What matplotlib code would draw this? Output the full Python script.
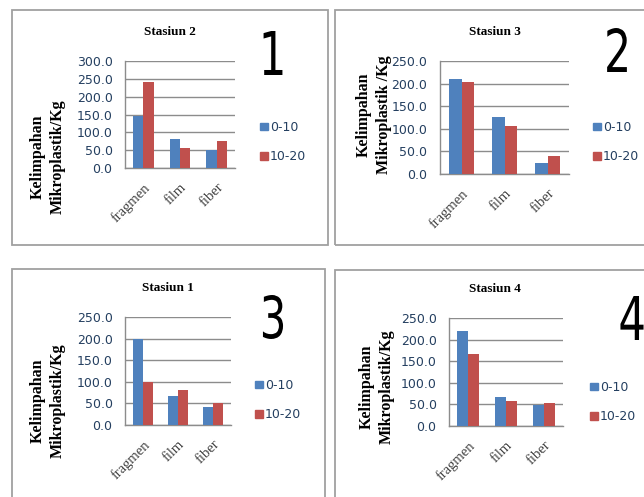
import numpy as np
import matplotlib.pyplot as plt
from matplotlib.patches import Rectangle, Patch, PathPatch
from matplotlib.textpath import TextPath
from matplotlib.font_manager import FontProperties
from matplotlib.transforms import Affine2D, IdentityTransform

W, H = 644, 497

categories = ['fragmen', 'film', 'fiber']
series_names = ['0-10', '10-20']

stasiun2_0_10 = [145, 82, 50]
stasiun2_10_20 = [240, 55, 75]
stasiun3_0_10 = [210, 126, 24]
stasiun3_10_20 = [203, 106, 40]
stasiun1_0_10 = [200, 67, 42]
stasiun1_10_20 = [100, 81, 50]
stasiun4_0_10 = [219, 67, 48]
stasiun4_10_20 = [166, 57, 53]

blue = '#4F81BD'
red = '#C0504D'
navy = '#243F60'
grid_c = '#8C8C8C'
serif = 'Liberation Serif'

fig = plt.figure(figsize=(W / 100, H / 100), dpi=100)


def fx(x):
    return x / W


def fy(y):
    return 1 - y / H


def big_digit(s, cx, cy, height=44, squeeze=0.72):
    # condensed panel number drawn as a path, centred on (cx, cy) in pixels
    tp = TextPath((0, 0), s, size=60, prop=FontProperties(family='DejaVu Sans'))
    ext = tp.get_extents()
    k = height / ext.height
    tr = (Affine2D()
          .translate(-(ext.x0 + ext.x1) / 2, -(ext.y0 + ext.y1) / 2)
          .scale(k * squeeze, k)
          .translate(cx, H - cy))
    patch = PathPatch(tr.transform_path(tp), facecolor='black', edgecolor='none',
                      transform=IdentityTransform())
    fig.patches.append(patch)


# panel layout in pixels: frame box, axes box, title, number, ylabel, legend
panels = [
    dict(title='Stasiun 2', num='1', ymax=300, ylab='Kelimpahan\nMikroplastik/Kg',
         data=(stasiun2_0_10, stasiun2_10_20),
         frame=(12, 10, 328, 245), ax=(125, 61, 235, 168),
         tpos=(170, 32), npos=(273, 53), lpos=(48, 157), leg=(260, 142)),
    dict(title='Stasiun 3', num='2', ymax=250, ylab='Kelimpahan\nMikroplastik /Kg',
         data=(stasiun3_0_10, stasiun3_10_20),
         frame=(335, 10, 660, 245), ax=(440, 61, 569, 174),
         tpos=(495, 32), npos=(617, 50), lpos=(374, 115), leg=(593, 142)),
    dict(title='Stasiun 1', num='3', ymax=250, ylab='Kelimpahan\nMikroplastik/Kg',
         data=(stasiun1_0_10, stasiun1_10_20),
         frame=(12, 269, 325, 510), ax=(125, 317, 231, 425),
         tpos=(168, 288), npos=(273, 317), lpos=(48, 401), leg=(255, 400)),
    dict(title='Stasiun 4', num='4', ymax=250, ylab='Kelimpahan\nMikroplastik/Kg',
         data=(stasiun4_0_10, stasiun4_10_20),
         frame=(335, 270, 660, 510), ax=(449, 318, 563, 426),
         tpos=(495, 289), npos=(632, 318), lpos=(377, 387), leg=(590, 402)),
]

x = np.arange(len(categories))
bw = 0.286

for p in panels:
    x0, y0, x1, y1 = p['frame']
    fig.patches.append(Rectangle((fx(x0), fy(y1)), fx(x1 - x0), (y1 - y0) / H,
                                 transform=fig.transFigure, fill=False,
                                 edgecolor='#A0A0A0', linewidth=1.3))

    a0, b0, a1, b1 = p['ax']
    ax = fig.add_axes([fx(a0), fy(b1), fx(a1 - a0), (b1 - b0) / H])
    v1, v2 = p['data']
    ax.bar(x - bw / 2, v1, bw, color=blue, zorder=3)
    ax.bar(x + bw / 2, v2, bw, color=red, zorder=3)
    ax.set_xlim(-0.5, len(categories) - 0.5)
    ax.set_ylim(0, p['ymax'])
    ax.set_yticks(np.arange(0, p['ymax'] + 1, 50))
    ax.set_yticklabels(['%.1f' % v for v in np.arange(0, p['ymax'] + 1, 50)],
                       fontsize=9, color=navy, family='DejaVu Sans')
    ax.set_xticks(x)
    ax.set_xticklabels(categories, rotation=45, ha='right', rotation_mode='anchor',
                       fontsize=10.5, color='#404040', family=serif)
    ax.tick_params(axis='y', length=0, pad=9)
    ax.tick_params(axis='x', length=0, pad=9)
    ax.grid(axis='y', color=grid_c, linewidth=1, zorder=0)
    for s in ['top', 'right']:
        ax.spines[s].set_visible(False)
    for s in ['left', 'bottom']:
        ax.spines[s].set_color(grid_c)
        ax.spines[s].set_linewidth(1)

    fig.text(fx(p['tpos'][0]), fy(p['tpos'][1]), p['title'], ha='center', va='center',
             fontsize=9.5, fontweight='bold', family=serif)
    big_digit(p['num'], *p['npos'])
    fig.text(fx(p['lpos'][0]), fy(p['lpos'][1]), p['ylab'], ha='center', va='center',
             rotation=90, fontsize=11.5, fontweight='bold', family=serif,
             multialignment='center', linespacing=1.35)

    handles = [Patch(color=blue), Patch(color=red)]
    fig.legend(handles, series_names, loc='center left',
               bbox_to_anchor=(fx(p['leg'][0]), fy(p['leg'][1])),
               frameon=False, labelcolor=navy,
               handlelength=0.6, handleheight=0.6, handletextpad=0.2,
               labelspacing=1.3, borderpad=0, borderaxespad=0,
               prop={'family': 'DejaVu Sans', 'size': 9})

fig.savefig('out.png', dpi=100)
